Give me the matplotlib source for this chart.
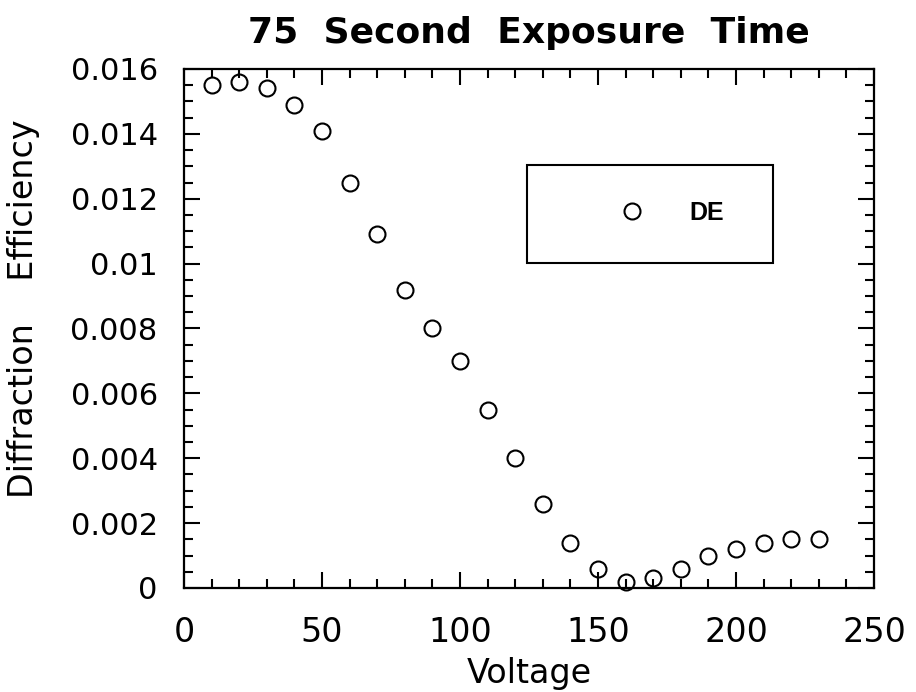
import matplotlib
matplotlib.use("Agg")
import matplotlib.pyplot as plt
from matplotlib.patches import Rectangle
from matplotlib.ticker import MultipleLocator, FixedLocator

# Messwerte: Spannung (V) gegen Beugungseffizienz
voltage = [10, 20, 30, 40, 50, 60, 70, 80, 90, 100, 110, 120,
           130, 140, 150, 160, 170, 180, 190, 200, 210, 220, 230]
efficiency = [0.0155, 0.0156, 0.0154, 0.0149, 0.0141, 0.0125, 0.0109,
              0.0092, 0.0080, 0.0070, 0.0055, 0.0040, 0.0026, 0.0014,
              0.0006, 0.0002, 0.0003, 0.0006, 0.0010, 0.0012, 0.0014,
              0.0015, 0.0015]

x_ticks = [0, 50, 100, 150, 200, 250]
y_ticks = [0, 0.002, 0.004, 0.006, 0.008, 0.01, 0.012, 0.014, 0.016]
y_tick_labels = ["0", "0.002", "0.004", "0.006", "0.008", "0.01",
                 "0.012", "0.014", "0.016"]

plt.rcParams['font.family'] = ['DejaVu Sans']

fig = plt.figure(figsize=(9.16, 6.92), dpi=100)
ax = fig.add_axes([0.2009, 0.1503, 0.7533, 0.750])

ax.plot(voltage, efficiency, linestyle='none', marker='o', markersize=11.5,
        markerfacecolor='none', markeredgecolor='black', markeredgewidth=1.5,
        label='DE', clip_on=False, zorder=3)

ax.set_xlim(0, 250)
ax.set_ylim(0, 0.016)

ax.xaxis.set_major_locator(FixedLocator(x_ticks))
ax.xaxis.set_minor_locator(MultipleLocator(10))
ax.yaxis.set_major_locator(FixedLocator(y_ticks))
ax.yaxis.set_minor_locator(MultipleLocator(0.0005))

ax.set_xticklabels([str(t) for t in x_ticks], fontsize=24)
ax.set_yticklabels(y_tick_labels, fontsize=22)

ax.tick_params(which='both', direction='in', top=True, right=True,
               width=1.5, colors='black')
ax.tick_params(which='major', length=11.5)
ax.tick_params(which='minor', length=6.5)
ax.tick_params(axis='x', pad=20)
ax.tick_params(axis='y', pad=19)

for s in ax.spines.values():
    s.set_linewidth(1.6)

ax.set_title("75  Second  Exposure  Time", fontsize=26, fontweight='bold', pad=19)
ax.set_xlabel("Voltage", fontsize=24, labelpad=6)
ax.set_ylabel("Diffraction    Efficiency", fontsize=24)
ax.yaxis.set_label_coords(-0.209, 0.5376)

# Legendenrahmen wie im Original (breiter Kasten, Eintrag rechts versetzt)
ax.add_patch(Rectangle((0.497, 0.626), 0.3565, 0.189, transform=ax.transAxes,
                       fill=False, edgecolor='black', linewidth=1.5, zorder=4))
leg = ax.legend(loc='center', bbox_to_anchor=(0.707, 0.7225), frameon=False,
                prop={'family': 'Liberation Sans', 'size': 18, 'weight': 'bold'},
                handlelength=1.0, handletextpad=1.8, borderpad=0, borderaxespad=0)

fig.savefig("out.png", dpi=100)
